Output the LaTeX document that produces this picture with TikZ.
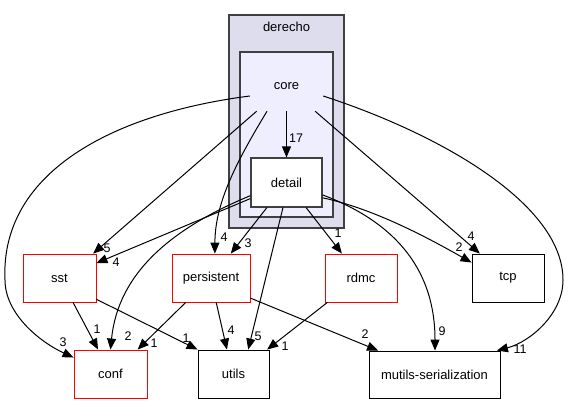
\documentclass[tikz,border=0pt]{standalone}
\usepackage{fontspec}
\setmainfont{Liberation Sans}
\usetikzlibrary{arrows.meta,calc}
\definecolor{outerfill}{HTML}{DDDDEE}
\definecolor{innerfill}{HTML}{EEEEFF}
\definecolor{clusterline}{HTML}{404040}
\definecolor{dirred}{HTML}{FF0000}

\tikzset{
  dirbox/.style={draw=black, fill=white, line width=0.9pt, minimum height=48pt,
    inner sep=0pt, font=\fontsize{13}{15}\selectfont},
  reddir/.style={dirbox, draw=dirred},
  cluster/.style={draw=clusterline, line width=1.4pt},
  dirtext/.style={font=\fontsize{13}{15}\selectfont, inner sep=0pt},
  dep/.style={-{Triangle[length=11pt,width=9pt]}, line width=1pt},
  lbl/.style={font=\fontsize{12.5}{14}\selectfont, inner sep=0pt},
}

\begin{document}
\begin{tikzpicture}[x=1pt, y=1pt]
  \useasboundingbox[fill=white] (0,0) rectangle (569,404);

  % Clusters
  \draw[cluster, fill=outerfill] (229,176) rectangle (344,389);
  \node[dirtext] (derecho) at (286.5,377) {derecho};
  \draw[cluster, fill=innerfill] (240,187) rectangle (333,352);
  \node[dirtext] (corename) at (286.5,318) {core};
  \node[minimum width=73pt, minimum height=30pt, inner sep=0pt] (core) at (286.5,308) {};

  % Directories
  \node[dirbox, draw=clusterline, line width=1.2pt, minimum width=71pt, minimum height=49pt] (detail) at (286.5,221.5) {detail};
  \node[reddir, minimum width=73pt] (sst) at (59.5,126) {sst};
  \node[reddir, minimum width=78pt] (persistent) at (211,126) {persistent};
  \node[reddir, minimum width=72pt] (rdmc) at (361,126) {rdmc};
  \node[dirbox, minimum width=72pt] (tcp) at (508,126) {tcp};
  \node[reddir, minimum width=73pt] (conf) at (110.5,30) {conf};
  \node[dirbox, minimum width=71pt] (utils) at (233.5,30) {utils};
  \node[dirbox, minimum width=131pt, minimum height=47pt] (mutils) at (434.5,29.5) {mutils-serialization};

  % Dependencies from core
  \draw[dep] (core.south) -- (detail.north);
  \node[lbl] (l17) at (296,266) {17};
  \draw[dep] (core.207) -- (sst.36);
  \node[lbl] (lcs) at (107,156) {5};
  \draw[dep] (core.218) .. controls (235,240) and (215,200) .. (persistent.81);
  \node[lbl] (lcp) at (224,167) {4};
  \draw[dep] (core.west) .. controls (110,290) and (0,230) .. (5,124)
    .. controls (5,90) and (40,62) .. (conf.156);
  \node[lbl] (lcc) at (63,62) {3};
  \draw[dep] (core.332) -- (tcp.139);
  \node[lbl] (lct) at (471,168) {4};
  \draw[dep] (core.east) .. controls (440,270) and (563,200) .. (563,124)
    .. controls (563,90) and (530,62) .. (mutils.21);
  \node[lbl] (lcm) at (520,55) {11};

  % Dependencies from detail
  \draw[dep] (detail.204) -- (sst.22);
  \node[lbl] (lds) at (116,142) {4};
  \draw[dep] (detail.232) -- (persistent.51);
  \node[lbl] (ldp) at (248,161) {3};
  \draw[dep] (detail.200) .. controls (170,175) and (118,130) .. (conf.north);
  \node[lbl] (ldc) at (128,68) {2};
  \draw[dep] (detail.262) -- (utils.59);
  \node[lbl] (ldu) at (258,68) {5};
  \draw[dep] (detail.308) -- (rdmc.128);
  \node[lbl] (ldr) at (338,171) {1};
  \draw[dep] (detail.337) .. controls (375,195) and (430,165) .. (tcp.157);
  \node[lbl] (ldt) at (459,157) {2};
  \draw[dep] (detail.341) .. controls (400,180) and (435,130) .. ($(mutils.north)+(0.5,0)$);
  \node[lbl] (ldm) at (442,73) {9};

  % Remaining dependencies
  \draw[dep] (sst.299) -- (conf.117);
  \node[lbl] (lsc) at (97,75) {1};
  \draw[dep] (sst.330) -- (utils.north west);
  \node[lbl] (lsu) at (186,66) {1};
  \draw[dep] (persistent.224) -- (conf.42);
  \node[lbl] (lpc) at (154,61) {1};
  \draw[dep] (persistent.282) -- (utils.105);
  \node[lbl] (lpu) at (231,74) {4};
  \draw[dep] (persistent.333) -- (mutils.157);
  \node[lbl] (lpm) at (365,70) {2};
  \draw[dep] (rdmc.216) -- (utils.36);
  \node[lbl] (lru) at (285,58) {1};
\end{tikzpicture}
\end{document}
